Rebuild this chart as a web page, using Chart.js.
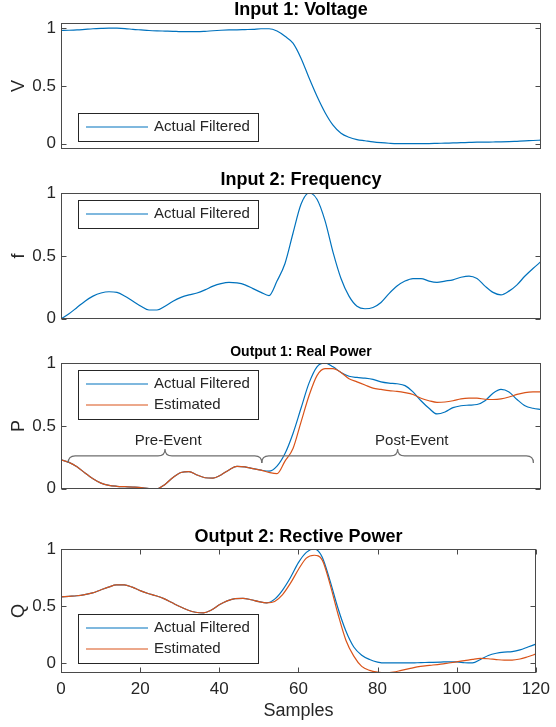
<!DOCTYPE html>
<html>
<head>
<meta charset="utf-8">
<title>Inputs and outputs</title>
<script src="https://cdn.jsdelivr.net/npm/chart.js@4/dist/chart.umd.min.js"></script>
<style>
  html, body { margin: 0; padding: 0; background: #fff; }
  #wrap { position: relative; width: 556px; height: 727px; overflow: hidden; }
  #wrap canvas { position: absolute; left: 0; }
</style>
</head>
<body>
<div id="wrap">
  <canvas id="c1" width="556" height="164" style="top:0px"></canvas>
  <canvas id="c2" width="556" height="170" style="top:164px"></canvas>
  <canvas id="c3" width="556" height="170" style="top:334px"></canvas>
  <canvas id="c4" width="556" height="223" style="top:504px"></canvas>
</div>
<script>
const samples = [0, 2, 4, 6, 8, 10, 12, 14, 16, 18, 20, 22, 24, 26, 28, 30, 32, 34, 36, 38, 40,
  42, 44, 46, 48, 50, 52, 54, 56, 58, 60, 62, 64, 66, 68, 70, 72, 74, 76, 78, 80,
  82, 84, 86, 88, 90, 92, 94, 96, 98, 100, 102, 104, 106, 108, 110, 112, 114, 116, 118, 120];

const voltage = [0.98, 0.982, 0.985, 0.99, 0.995, 0.998, 1.0, 1.0, 0.997, 0.99, 0.985,
  0.98, 0.977, 0.975, 0.973, 0.97, 0.97, 0.97, 0.973, 0.978, 0.982,
  0.985, 0.986, 0.988, 0.99, 0.995, 0.995, 0.975, 0.93, 0.87, 0.74,
  0.57, 0.41, 0.27, 0.16, 0.09, 0.055, 0.035, 0.025, 0.015, 0.008,
  0.003, 0.0, 0.0, 0.0, 0.0, 0.0, 0.002, 0.004, 0.006, 0.008,
  0.01, 0.012, 0.013, 0.014, 0.015, 0.017, 0.02, 0.023, 0.027, 0.03];

const frequency = [0.0, 0.04, 0.09, 0.14, 0.18, 0.205, 0.215, 0.21, 0.18, 0.14, 0.10,
  0.07, 0.07, 0.10, 0.14, 0.17, 0.19, 0.205, 0.23, 0.26, 0.28,
  0.29, 0.285, 0.27, 0.24, 0.21, 0.185, 0.30, 0.44, 0.68, 0.91,
  1.0, 0.95, 0.78, 0.53, 0.32, 0.18, 0.10, 0.08, 0.09, 0.13,
  0.20, 0.26, 0.30, 0.32, 0.32, 0.30, 0.29, 0.30, 0.31, 0.33,
  0.34, 0.32, 0.26, 0.21, 0.19, 0.22, 0.27, 0.34, 0.40, 0.455];

const realActual = [0.23, 0.21, 0.175, 0.125, 0.08, 0.045, 0.027, 0.02, 0.017, 0.014, 0.01,
  0.002, 0.0, 0.035, 0.09, 0.13, 0.137, 0.11, 0.088, 0.085, 0.11,
  0.15, 0.178, 0.175, 0.16, 0.148, 0.14, 0.18, 0.28, 0.44, 0.64,
  0.84, 0.97, 1.0, 0.97, 0.925, 0.895, 0.885, 0.88, 0.87, 0.85,
  0.84, 0.835, 0.82, 0.77, 0.70, 0.64, 0.595, 0.61, 0.645, 0.66,
  0.665, 0.67, 0.70, 0.76, 0.79, 0.77, 0.71, 0.66, 0.64, 0.63];

const realEstimated = [0.23, 0.21, 0.175, 0.125, 0.08, 0.045, 0.027, 0.02, 0.017, 0.014, 0.01,
  0.002, 0.0, 0.035, 0.09, 0.13, 0.137, 0.11, 0.088, 0.085, 0.11,
  0.15, 0.178, 0.175, 0.16, 0.148, 0.13, 0.12, 0.22, 0.32, 0.53,
  0.74, 0.90, 0.955, 0.955, 0.925, 0.875, 0.85, 0.825, 0.80, 0.79,
  0.78, 0.775, 0.765, 0.75, 0.72, 0.70, 0.687, 0.69, 0.70, 0.715,
  0.72, 0.72, 0.712, 0.71, 0.715, 0.73, 0.75, 0.765, 0.77, 0.77];

const reactiveActual = [0.58, 0.585, 0.59, 0.60, 0.615, 0.64, 0.665, 0.685, 0.685, 0.665, 0.635,
  0.61, 0.59, 0.565, 0.53, 0.495, 0.465, 0.445, 0.44, 0.465, 0.51,
  0.545, 0.565, 0.567, 0.555, 0.538, 0.528, 0.56, 0.64, 0.75, 0.88,
  0.97, 1.0, 0.93, 0.72, 0.48, 0.28, 0.14, 0.068, 0.03, 0.008,
  0.0, 0.0, 0.0, 0.0, 0.002, 0.004, 0.006, 0.008, 0.01, 0.01,
  0.002, 0.0, 0.03, 0.065, 0.085, 0.095, 0.1, 0.115, 0.14, 0.165];

const reactiveEstimated = [0.58, 0.585, 0.59, 0.60, 0.615, 0.64, 0.665, 0.685, 0.685, 0.665, 0.635,
  0.61, 0.59, 0.565, 0.53, 0.495, 0.465, 0.445, 0.44, 0.465, 0.51,
  0.545, 0.565, 0.567, 0.555, 0.538, 0.528, 0.54, 0.60, 0.70, 0.82,
  0.92, 0.945, 0.905, 0.69, 0.43, 0.20, 0.06, -0.03, -0.065, -0.08,
  -0.085, -0.08, -0.065, -0.05, -0.035, -0.025, -0.018, -0.01, 0.0, 0.01,
  0.02, 0.032, 0.04, 0.037, 0.03, 0.025, 0.025, 0.035, 0.055, 0.077];

const yTicks = [0, 0.5, 1];
const xTicks = [0, 20, 40, 60, 80, 100, 120];

const eventSpans = [
  { label: 'Pre-Event', from: 1.8, to: 50.2, labelAt: 26.8 },
  { label: 'Post-Event', from: 50.2, to: 118.1, labelAt: 87.7 }
];

const BLUE = '#0072BD';
const ORANGE = '#D95319';
const FONT = '"Liberation Sans", Arial, Helvetica, sans-serif';
const INK = '#262626';

Chart.defaults.font.family = FONT;
Chart.defaults.color = INK;

// frame round the plot area with inward tick marks, MATLAB style
const axesBox = {
  id: 'axesBox',
  afterDatasetsDraw(chart, args, opts) {
    const { ctx, chartArea: a, scales } = chart;
    const L = Math.round(a.left) + 0.5, R = Math.round(a.right) - 0.5;
    const T = Math.round(a.top) + 0.5, B = Math.round(a.bottom) - 0.5;
    ctx.save();
    ctx.strokeStyle = '#4a4a4a';
    ctx.lineWidth = 1;
    ctx.strokeRect(L, T, R - L, B - T);
    ctx.beginPath();
    scales.y.ticks.forEach(t => {
      const py = Math.round(scales.y.getPixelForValue(t.value)) + 0.5;
      ctx.moveTo(L, py); ctx.lineTo(L + 5, py);
      ctx.moveTo(R, py); ctx.lineTo(R - 5, py);
    });
    if (opts.xTicks) {
      scales.x.ticks.forEach(t => {
        const px = Math.round(scales.x.getPixelForValue(t.value)) + 0.5;
        ctx.moveTo(px, B); ctx.lineTo(px, B - 5);
        ctx.moveTo(px, T); ctx.lineTo(px, T + 5);
      });
    }
    ctx.stroke();
    ctx.restore();
  }
};

// bold title centred over the plot area
const panelTitle = {
  id: 'panelTitle',
  afterDraw(chart, args, opts) {
    const { ctx, chartArea: a } = chart;
    ctx.save();
    ctx.font = `bold ${opts.size}px ${FONT}`;
    ctx.fillStyle = '#000';
    ctx.textAlign = 'center';
    ctx.textBaseline = 'middle';
    ctx.fillText(opts.text, (a.left + a.right) / 2, opts.y);
    ctx.restore();
  }
};

// legend in a framed box inside the plot area
const boxLegend = {
  id: 'boxLegend',
  afterDatasetsDraw(chart, args, opts) {
    const { ctx, chartArea: a } = chart;
    const sets = chart.data.datasets;
    const w = 180, rowH = 21, h = sets.length * rowH + 7;
    const left = Math.round(a.left + opts.dx);
    const top = Math.round(opts.corner === 'sw' ? a.bottom - opts.dy - h : a.top + opts.dy);
    ctx.save();
    ctx.fillStyle = '#fff';
    ctx.fillRect(left, top, w, h);
    ctx.strokeStyle = INK;
    ctx.lineWidth = 1;
    ctx.strokeRect(left + 0.5, top + 0.5, w, h);
    ctx.font = `15px ${FONT}`;
    ctx.textBaseline = 'middle';
    sets.forEach((ds, i) => {
      const cy = top + 14 + i * rowH;
      ctx.strokeStyle = ds.borderColor;
      ctx.lineWidth = ds.borderWidth;
      ctx.beginPath();
      ctx.moveTo(left + 8, cy);
      ctx.lineTo(left + 70, cy);
      ctx.stroke();
      ctx.fillStyle = INK;
      ctx.fillText(ds.label, left + 76, cy);
    });
    ctx.restore();
  }
};

// curly braces marking the pre/post event windows
const eventBraces = {
  id: 'eventBraces',
  afterDatasetsDraw(chart, args, opts) {
    if (!opts.spans) return;
    const { ctx, scales: { x, y } } = chart;
    const yb = y.getPixelForValue(opts.level);
    const ty = y.getPixelForValue(opts.labelLevel);
    const h = 7, r = 7;
    ctx.save();
    ctx.strokeStyle = '#6e6e6e';
    ctx.lineWidth = 1.2;
    ctx.fillStyle = INK;
    ctx.font = `15px ${FONT}`;
    ctx.textAlign = 'center';
    ctx.textBaseline = 'middle';
    opts.spans.forEach(s => {
      const x1 = x.getPixelForValue(s.from), x2 = x.getPixelForValue(s.to);
      const xm = (x1 + x2) / 2;
      ctx.beginPath();
      ctx.moveTo(x1, yb + h);
      ctx.quadraticCurveTo(x1, yb, x1 + r, yb);
      ctx.lineTo(xm - r, yb);
      ctx.quadraticCurveTo(xm, yb, xm, yb - h);
      ctx.quadraticCurveTo(xm, yb, xm + r, yb);
      ctx.lineTo(x2 - r, yb);
      ctx.quadraticCurveTo(x2, yb, x2, yb + h);
      ctx.stroke();
      ctx.fillText(s.label, x.getPixelForValue(s.labelAt), ty);
    });
    ctx.restore();
  }
};

const toPoints = vals => samples.map((s, i) => ({ x: s, y: vals[i] }));

const line = (label, vals, color, order) => ({
  label,
  data: toPoints(vals),
  borderColor: color,
  borderWidth: 1.2,
  pointRadius: 0,
  cubicInterpolationMode: 'monotone',
  fill: false,
  order
});

const makePanel = (id, cfg) => {
  const showX = !!cfg.showX;
  return new Chart(document.getElementById(id), {
    type: 'line',
    data: { datasets: cfg.datasets },
    options: {
      responsive: false,
      animation: false,
      layout: { padding: { top: cfg.padTop, bottom: cfg.padBottom, left: 0, right: 15 } },
      scales: {
        x: {
          type: 'linear',
          min: 0,
          max: 120,
          display: showX,
          grid: { display: false, drawTicks: false },
          border: { display: false },
          afterBuildTicks: s => { s.ticks = xTicks.map(v => ({ value: v })); },
          afterFit: s => { if (showX) s.height = 54; },
          ticks: { font: { size: 17 }, padding: 6, maxRotation: 0, color: INK },
          title: {
            display: showX,
            text: 'Samples',
            font: { size: 18 },
            color: INK,
            padding: { top: 0, bottom: 5 }
          }
        },
        y: {
          min: cfg.yMin,
          max: cfg.yMax,
          grid: { display: false, drawTicks: false },
          border: { display: false },
          afterBuildTicks: s => { s.ticks = yTicks.map(v => ({ value: v })); },
          afterFit: s => { s.width = 61; },
          ticks: { font: { size: 17 }, padding: 5, color: INK, callback: v => String(v) },
          title: {
            display: true,
            text: cfg.ylabel,
            font: { size: 18 },
            color: INK,
            padding: { top: 8, bottom: 0 }
          }
        }
      },
      plugins: {
        legend: { display: false },
        tooltip: { enabled: false },
        axesBox: { xTicks: showX },
        panelTitle: cfg.title,
        boxLegend: cfg.legend,
        eventBraces: cfg.braces || {}
      }
    },
    plugins: [axesBox, boxLegend, eventBraces, panelTitle]
  });
};

makePanel('c1', {
  padTop: 23, padBottom: 12, yMin: -0.045, yMax: 1.045, ylabel: 'V',
  title: { text: 'Input 1: Voltage', size: 18, y: 10 },
  legend: { corner: 'sw', dx: 17, dy: 8 },
  datasets: [line('Actual Filtered', voltage, BLUE, 0)]
});

makePanel('c2', {
  padTop: 29, padBottom: 12, yMin: 0, yMax: 1, ylabel: 'f',
  title: { text: 'Input 2: Frequency', size: 18, y: 16 },
  legend: { corner: 'nw', dx: 17, dy: 7 },
  datasets: [line('Actual Filtered', frequency, BLUE, 0)]
});

makePanel('c3', {
  padTop: 29, padBottom: 12, yMin: 0, yMax: 1, ylabel: 'P',
  title: { text: 'Output 1: Real Power', size: 14, y: 18 },
  legend: { corner: 'nw', dx: 17, dy: 7 },
  braces: { spans: eventSpans, level: 0.261, labelLevel: 0.38 },
  datasets: [
    line('Actual Filtered', realActual, BLUE, 1),
    line('Estimated', realEstimated, ORANGE, 0)
  ]
});

makePanel('c4', {
  padTop: 45, padBottom: 0, yMin: -0.088, yMax: 1, ylabel: 'Q', showX: true,
  title: { text: 'Output 2: Rective Power', size: 18, y: 33 },
  legend: { corner: 'sw', dx: 17, dy: 10 },
  datasets: [
    line('Actual Filtered', reactiveActual, BLUE, 1),
    line('Estimated', reactiveEstimated, ORANGE, 0)
  ]
});
</script>
</body>
</html>
